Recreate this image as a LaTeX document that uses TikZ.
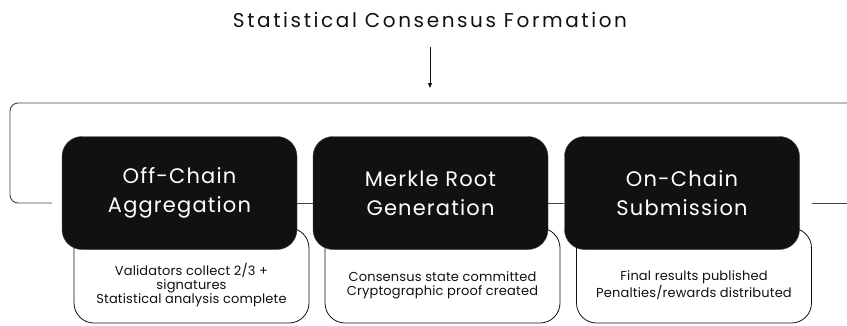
\documentclass[tikz,border=0pt]{standalone}
\usepackage{fontspec}
\setmainfont{Poppins}
\usetikzlibrary{arrows.meta}
\definecolor{boxblack}{HTML}{111111}
\definecolor{linegray}{HTML}{444444}
\newcommand{\titlefnt}{\fontsize{20}{24}\selectfont\addfontfeatures{LetterSpace=13}}
\newcommand{\stagefnt}{\fontsize{21}{29}\selectfont\addfontfeatures{LetterSpace=5.5}}
\newcommand{\notefnt}{\fontsize{13}{14}\selectfont\addfontfeatures{LetterSpace=1.2}}
\begin{document}
\begin{tikzpicture}[x=1pt,y=-1pt,
  stagebox/.style={draw=linegray,fill=boxblack,rounded corners=20pt,minimum width=235pt,minimum height=113pt,inner sep=0pt,text=white,align=center,font=\stagefnt},
  notebox/.style={draw=boxblack,fill=white,rounded corners=20pt,minimum width=235pt,minimum height=95pt,inner sep=0pt,line width=0.8pt},
  notetext/.style={align=center,font=\notefnt,text=boxblack},
  frameline/.style={draw=linegray,line width=0.9pt},
  conn/.style={draw=linegray,line width=0.9pt}]
\useasboundingbox (0,0) rectangle (847,325);
\node[font=\titlefnt,text=boxblack,anchor=base] (title) at (430,27) {Statistical Consensus Formation};
\coordinate (arrtop) at (430,47);
\coordinate (arrbot) at (430,88);
\draw[line width=0.8pt,draw=boxblack,-{Triangle[length=5pt,width=4pt]}] (arrtop) -- (arrbot);
% frame
\coordinate (fl) at (52,203);
\coordinate (fr) at (860,203);
\draw[frameline,rounded corners=8pt] (fl) -- (10,203) -- (10,103) -- (860,103);
\coordinate (r1) at (812,203);
\draw[frameline] (r1) -- (fr);
% note boxes
\node[notebox] (n1) at (191.5,275.5) {};
\node[notebox] (n2) at (442.5,275.5) {};
\node[notebox] (n3) at (694,275.5) {};
\node[notetext] (t1) at (191.5,285) {Validators collect 2/3 +\\signatures\\Statistical analysis complete};
\node[notetext] (t2) at (442.5,285) {Consensus state committed\\Cryptographic proof created};
\node[notetext] (t3) at (694,285) {Final results published\\Penalties/rewards distributed};
% connectors
\coordinate (c1a) at (297,203);
\coordinate (c1b) at (313,203);
\coordinate (c2a) at (548,203);
\coordinate (c2b) at (564,203);
\draw[conn] (c1a) -- (c1b);
\draw[conn] (c2a) -- (c2b);
% stage boxes
\node[stagebox] (s1) at (179.5,193) {Off-Chain\\Aggregation};
\node[stagebox] (s2) at (430.5,193) {Merkle Root\\Generation};
\node[stagebox] (s3) at (682,193) {On-Chain\\Submission};
\end{tikzpicture}
\end{document}
